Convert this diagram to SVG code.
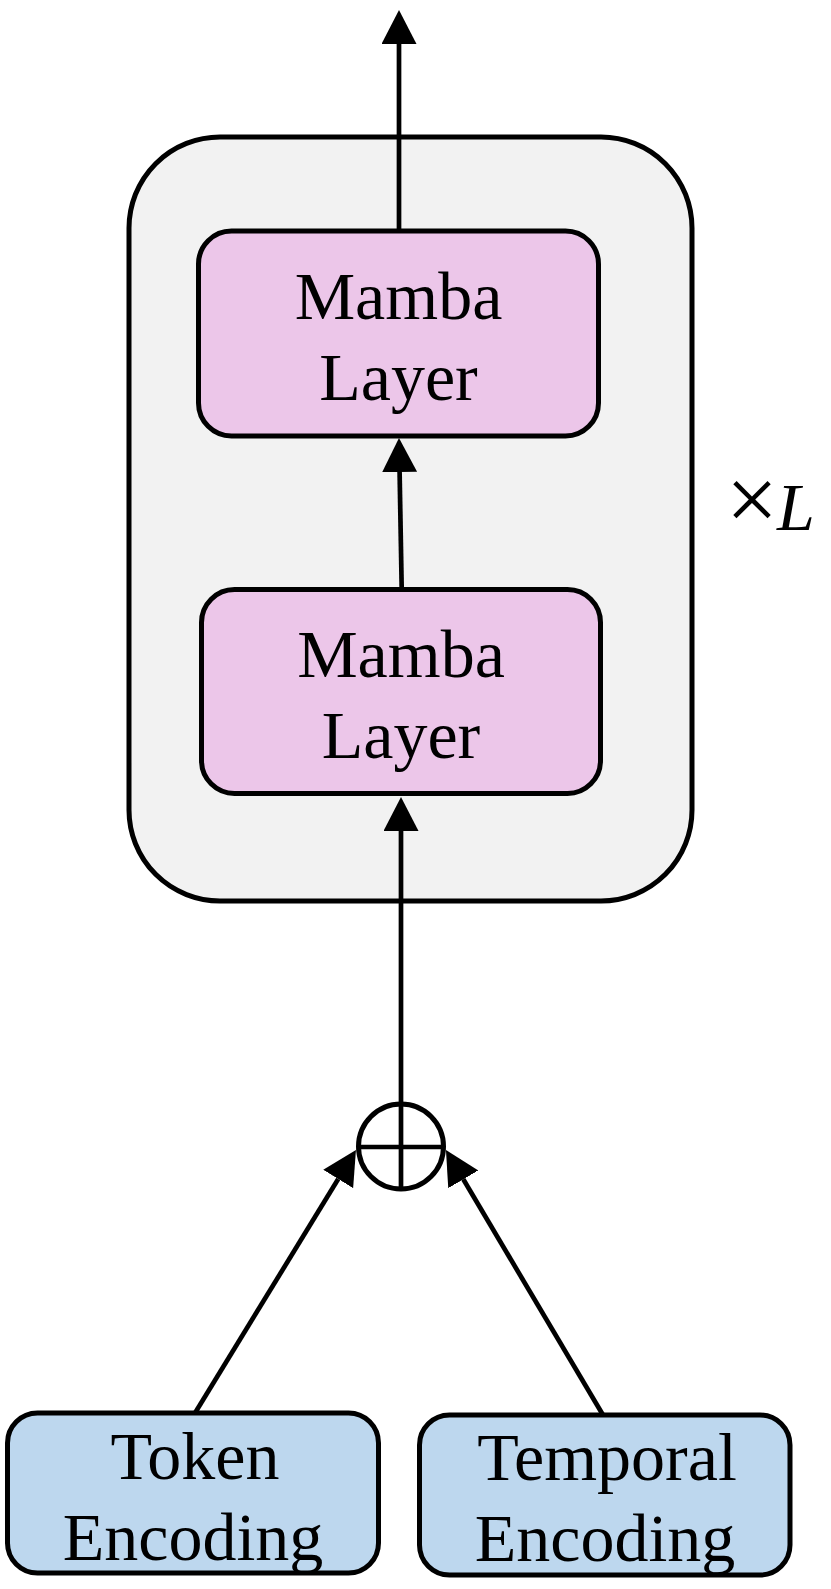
<svg xmlns="http://www.w3.org/2000/svg" width="831" height="1589" viewBox="0 0 831 1589">
  <style>
    .box { stroke: #000; stroke-width: 5; }
    .outer { fill: #f2f2f2; }
    .mamba { fill: #ecc6e9; }
    .enc { fill: #bdd7ee; }
    .lbl { font-family: "Liberation Serif", "Times New Roman", serif; font-size: 68px; fill: #000; text-anchor: middle; }
    .edge { stroke: #000; stroke-width: 4.7; fill: none; }
  </style>
  <defs>
    <marker id="arr" markerUnits="userSpaceOnUse" markerWidth="36" markerHeight="36" refX="0" refY="17.5" orient="auto" viewBox="0 0 36 36">
      <path d="M0,0 L34,17.5 L0,35 z" fill="#000"/>
    </marker>
  </defs>
  <rect width="831" height="1589" fill="#fff"/>

  <g id="container">
    <rect class="box outer" x="129" y="137" width="563" height="764" rx="91" ry="91"/>
  </g>

  <g id="mamba-top">
    <rect class="box mamba" x="198.5" y="231" width="400" height="205" rx="33" ry="33"/>
    <text class="lbl" x="398.5" y="319">Mamba</text>
    <text class="lbl" x="398.5" y="400">Layer</text>
  </g>

  <g id="mamba-bottom">
    <rect class="box mamba" x="201.5" y="589.5" width="399" height="204" rx="33" ry="33"/>
    <text class="lbl" x="401" y="677">Mamba</text>
    <text class="lbl" x="401" y="758">Layer</text>
  </g>

  <g id="repeat-label">
    <text font-family="'Liberation Serif', 'Times New Roman', serif" font-size="68" x="726" y="530"><tspan font-size="92">×</tspan><tspan x="777" font-style="italic">L</tspan></text>
  </g>

  <g id="sum">
    <circle cx="401" cy="1146.5" r="42.5" fill="#fff" stroke="#000" stroke-width="5"/>
    <line x1="358.5" y1="1147" x2="443.5" y2="1147" stroke="#000" stroke-width="4.7"/>
    <line x1="401" y1="1104" x2="401" y2="1189" stroke="#000" stroke-width="4.7"/>
  </g>

  <g id="token-encoding">
    <rect class="box enc" x="7.5" y="1413" width="371" height="160" rx="30" ry="30"/>
    <text class="lbl" x="195" y="1479">Token</text>
    <text class="lbl" x="193" y="1560">Encoding</text>
  </g>

  <g id="temporal-encoding">
    <rect class="box enc" x="419.5" y="1415" width="370.5" height="160" rx="30" ry="30"/>
    <text class="lbl" x="607" y="1480">Temporal</text>
    <text class="lbl" x="605" y="1561">Encoding</text>
  </g>

  <g id="connectors">
    <path class="edge" d="M399,231 L399,44" marker-end="url(#arr)"/>
    <path class="edge" d="M401.7,589 L399.6,472" marker-end="url(#arr)"/>
    <path class="edge" d="M401,1104 L401,831" marker-end="url(#arr)"/>
    <path class="edge" d="M195,1413 L338.2,1179" marker-end="url(#arr)"/>
    <path class="edge" d="M603,1415 L463.3,1179.3" marker-end="url(#arr)"/>
  </g>
</svg>
